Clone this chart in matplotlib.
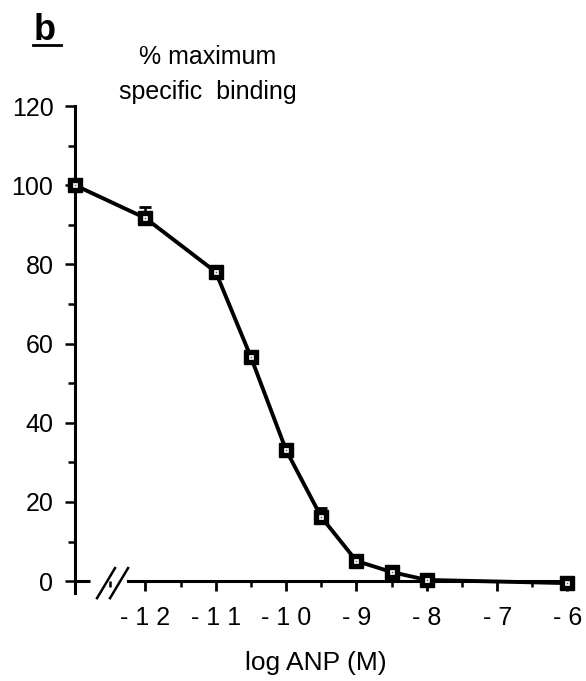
import matplotlib
matplotlib.use("Agg")
import matplotlib.pyplot as plt
from matplotlib.ticker import FixedLocator

plt.rcParams['font.family'] = ['Liberation Sans', 'DejaVu Sans']

# Data (log ANP in M; first point = control, plotted at axis origin)
log_anp = [-13.0, -12.0, -11.0, -10.5, -10.0, -9.5, -9.0, -8.5, -8.0, -6.0]
binding = [100.0, 91.7, 78.1, 56.6, 33.1, 16.2, 5.1, 2.3, 0.3, -0.5]
sem_low = [0.5, 1.5, 0.8, 1.0, 0.8, 1.2, 0.5, 0.5, 0.5, 0.5]
sem_high = [0.5, 2.8, 0.8, 1.0, 0.8, 2.2, 0.5, 0.5, 0.5, 0.5]

y_major = [0, 20, 40, 60, 80, 100, 120]
y_minor = [10, 30, 50, 70, 90, 110]
x_major = [-12, -11, -10, -9, -8, -7, -6]
x_major_labels = ['- 1 2', '- 1 1', '- 1 0', '- 9', '- 8', '- 7', '- 6']
x_minor = [-12.5, -11.5, -10.5, -9.5, -8.5, -7.5, -6.5]

fig = plt.figure(figsize=(5.86, 6.81), dpi=100)
ax = fig.add_axes([0.128, 0.1292, 0.8464, 0.7151])
ax.set_xlim(-13.0, -5.95)
ax.set_ylim(-3, 120)

lw = 2.2
ax.errorbar(log_anp, binding, yerr=[sem_low, sem_high], fmt='none', ecolor='black',
            elinewidth=1.8, capsize=4.5, capthick=2.0, zorder=3, clip_on=False)
ax.plot(log_anp, binding, color='black', lw=2.8, marker='s', markersize=10,
        markerfacecolor='black', markeredgecolor='black', zorder=4, clip_on=False)
ax.plot(log_anp, binding, linestyle='none', marker='s', markersize=2.6,
        markerfacecolor='white', markeredgecolor='white', markeredgewidth=0.5,
        zorder=5, clip_on=False)
ax.plot(log_anp, binding, linestyle='none', marker='s', markersize=1.0,
        markerfacecolor='#555555', markeredgecolor='none', zorder=6, clip_on=False)

for s in ['top', 'right']:
    ax.spines[s].set_visible(False)
ax.spines['left'].set_linewidth(lw)
ax.spines['bottom'].set_linewidth(lw)
ax.spines['bottom'].set_position(('data', 0))
ax.spines['bottom'].set_bounds(-12.25, -5.95)

# short stub of x axis left of the break, and break marks
ax.plot([-13.0, -12.79], [0, 0], color='black', lw=lw, clip_on=False,
        solid_capstyle='butt', zorder=2)
ax.plot([-12.687, -12.431], [-4.3, 3.3], color='black', lw=1.8, clip_on=False)
ax.plot([-12.502, -12.246], [-4.3, 3.3], color='black', lw=1.8, clip_on=False)

ax.yaxis.set_major_locator(FixedLocator(y_major))
ax.yaxis.set_minor_locator(FixedLocator(y_minor))
ax.set_yticklabels([str(v) for v in y_major])
ax.xaxis.set_major_locator(FixedLocator(x_major))
ax.xaxis.set_minor_locator(FixedLocator(x_minor))
ax.set_xticklabels(x_major_labels)

ax.tick_params(axis='y', which='major', direction='out', length=7.5, width=1.8,
               pad=8, labelsize=18)
ax.tick_params(axis='y', which='minor', direction='out', length=5, width=1.8)
ax.tick_params(axis='x', which='major', direction='out', length=7, width=2.0,
               pad=11, labelsize=18)
ax.tick_params(axis='x', which='minor', direction='out', length=4, width=1.8)

fig.text(316/586, 1 - 663/681, 'log ANP (M)', ha='center', va='center', fontsize=19)
fig.text(208/586, 1 - 57/681, '% maximum', ha='center', va='center', fontsize=18)
fig.text(208/586, 1 - 92/681, 'specific  binding', ha='center', va='center', fontsize=18)
fig.text(45/586, 1 - 30/681, 'b', ha='center', va='center', fontsize=26,
         fontweight='bold')
fig.add_artist(plt.Line2D([33/586, 61/586], [1 - 45/681, 1 - 45/681],
                          color='black', lw=2.0))

fig.savefig('out.png', dpi=100)
